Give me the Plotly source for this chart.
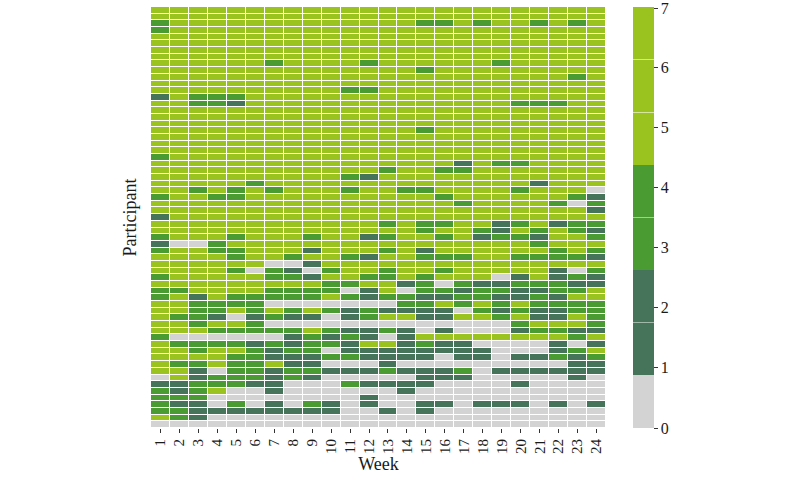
import plotly.graph_objects as go

# Week categories (x axis)
weeks = [str(i) for i in range(1, 25)]

# Cell levels per participant (top row first), one code per week:
# G = 0 (grey), D = 2 (dark green), M = 4 (mid green), L = 6 (light green)
level_value = {"G": 0, "D": 2, "M": 4, "L": 6}

rows = [
    "LLLLLLLLLLLLLLLLLLLLLLLL",
    "LLLLLLLLLLLLLLLLLLLLLLLL",
    "MLLLLLLLLLLLLLMMLMLLMLML",
    "MLLLLLLLLLLLLLLLLLLLLLLL",
    "LLLLLLLLLLLLLLLLLLLLLLLL",
    "LLLLLLLLLLLLLLLLLLLLLLLL",
    "LLLLLLLLLLLLLLLLLLLLLLLL",
    "LLLLLLLLLLLLLLLLLLLLLLLL",
    "LLLLLLMLLLLMLLLLLLMLLLLL",
    "LLLLLLLLLLLLLLMLLLLLLLLL",
    "LLLLLLLLLLLLLLLLLLLLLLML",
    "LLLLLLLLLLLLLLLLLLLLLLLL",
    "LLLLLLLLLLMMLLLLLLLLLLLL",
    "DLMMMLLLLLLLLLLLLLLLLLLL",
    "LLMMDLLLLLLLLLLLLLLMMMLL",
    "LLLLLLLLLLLLLLLLLLLLLLLL",
    "LLLLLLLLLLLLLLLLLLLLLLLL",
    "LLLLLLLLLLLLLLLLLLLLLLLL",
    "LLLLLLLLLLLLLLMLLLLLLLLL",
    "LLLLLLLLLLLLLLLLLLLLLLLL",
    "LLLLLLLLLLLLLLLLLLLLLLLL",
    "LLLLLLLLLLLLLLLLLLLLLLLL",
    "MLLLLLLLLLLLLLLLLLLLLLLL",
    "LLLLLLLLLLLLLLLLDLMMLLLL",
    "LLLLLLLLLLLLMLLMMLLLLLLL",
    "LLLLLLLLLLMDLLLLLLLLLLLL",
    "LLLLLMLLLLLLLLLLLLLLDLLL",
    "LLMLMLMLLLMLLMMLLLLMLLLG",
    "MLLMMLLLLLLLLLLMLLLLLLMD",
    "LLLLLLLLLLLLLLLLMLLLLMGM",
    "LLLLLLLLLLLLLLLLLLLLLLLD",
    "DLLLLLLLLLLLLLLLLLLLLLLL",
    "LLLLLLLLLLLLMLMMLLDMLDMM",
    "LLLLLLLLLLLLLLMLLMDLMLMD",
    "MLLLMLLLMLLDMLLMLDMMDLLM",
    "DGGMLLLLLLLLLLLLLLLLMLLL",
    "MLLMMLLLDLLLMLDLLLLLLMLM",
    "LLLLMLLMLLMDLLMMMLLMMMMD",
    "LLLLLLGGDLLLLLLLLLLLLLLL",
    "LLLLMGMDGMLLMLLMLLLLLDGM",
    "MLLLLLMMDLLMMLMLLLGDLDMD",
    "LLLLLLLLLMMLLDMGMDDMMMDD",
    "MMLLLLMMMMGDLGMMDMMDDMML",
    "MLDLMMMMMLMDMMDDMMDDMDLL",
    "LLMMMMGGGGGGGMMLMLMLMMMM",
    "LLMMLMLMLMDMDDDDGMDMDDMM",
    "LMMDGDMDDGDMLLDDLLMLDDLM",
    "LLMLLMGGGGGGGGGGGGGMLLLM",
    "LLLMMMMMLMDDMDGDGGGDMMDD",
    "MGGGGGGDMDMDGDLLLLLLLLML",
    "LMMMMDMDMMDLLDMDDGGGGDGD",
    "LLMLLMDMMGDDDDDDDDGGGDML",
    "LLLLMMDDDMMDDDDGDDGDDMDM",
    "LMMLMMLDDGGGDGGGGGGGGGDD",
    "LLDGMMDMMDDDMDDDMGDDDDDD",
    "GLDMMMDMDGGGGGDDDGGGGGDG",
    "DDMMMDDGGGMDDDDGGGGDGGGG",
    "MDMLGGDGGGGGGDGGGGGGGGGG",
    "MMMGGGGGGGGDGGGGGGGGGGGG",
    "MDDGMGDGMDGDGGDDGDDDGDGD",
    "MMDDDDDDDDGGDGDGGGGGGGGG",
    "LMDGGGGGGGGGGGGGGGGGGGGG",
    "GGGGGGGGGGGGGGGGGGGGGGGG",
]

colorbar_tick_labels = ["0", "1", "2", "3", "4", "5", "6", "7"]

z = [[level_value[c] for c in r] for r in rows]
participants = list(range(1, len(rows) + 1))

GREY = "#D3D3D3"
DARK = "#46745A"
MID = "#4B9B33"
LIGHT = "#9BC31F"

# 8 equal bins over 0..7, with faint separators inside same-colour groups
bins = [GREY, DARK, DARK, MID, MID, LIGHT, LIGHT, LIGHT]
sep_colors = {2: "#9fb8a8", 4: "#a6cf96", 6: "#d6e6a0", 7: "#d6e6a0"}
gap = 0.0016
cs = []
for k, col in enumerate(bins):
    lo, hi = k / 8, (k + 1) / 8
    start = lo + gap if k in sep_colors else lo
    if k == 0:
        cs.append([0.0, col])
    else:
        cs.append([start, col])
    if k + 1 in sep_colors:
        end = hi - gap
        cs.append([end, col])
        cs.append([end, sep_colors[k + 1]])
        cs.append([hi + gap, sep_colors[k + 1]])
    else:
        cs.append([hi, col])
cs[-1][0] = 1.0

tick_positions = [0, 1, 2, 3, 4, 5, 6, 6.97]

fig = go.Figure(
    go.Heatmap(
        z=z,
        x=weeks,
        y=participants,
        zmin=0,
        zmax=7,
        colorscale=cs,
        xgap=1,
        ygap=1,
        colorbar=dict(
            x=1.0593,
            xanchor="left",
            xpad=0,
            ypad=0,
            y=0.5,
            yanchor="middle",
            len=1,
            thickness=21,
            outlinewidth=0,
            tickmode="array",
            tickvals=tick_positions,
            ticktext=colorbar_tick_labels,
            ticks="outside",
            ticklen=4,
            tickcolor="#333333",
            tickfont=dict(size=16, family="Liberation Serif", color="#1a1a1a"),
        ),
    )
)

fig.update_layout(
    width=800,
    height=487,
    margin=dict(l=151, r=194, t=7, b=59),
    plot_bgcolor="white",
    paper_bgcolor="white",
    font=dict(family="Liberation Serif", size=15, color="#1a1a1a"),
    xaxis=dict(
        type="category",
        tickangle=-90,
        ticks="outside",
        ticklen=4,
        tickcolor="#333333",
        showgrid=False,
        zeroline=False,
        showline=False,
        title=dict(text="Week", font=dict(size=18), standoff=0),
        automargin=False,
    ),
    yaxis=dict(
        autorange="reversed",
        showticklabels=False,
        ticks="",
        showgrid=False,
        zeroline=False,
        showline=False,
        title=dict(text="Participant", font=dict(size=18), standoff=8),
        automargin=False,
    ),
)

fig.write_html(
    "out.html",
    config={"displayModeBar": False},
    post_script="document.body.style.margin='0px';",
)
